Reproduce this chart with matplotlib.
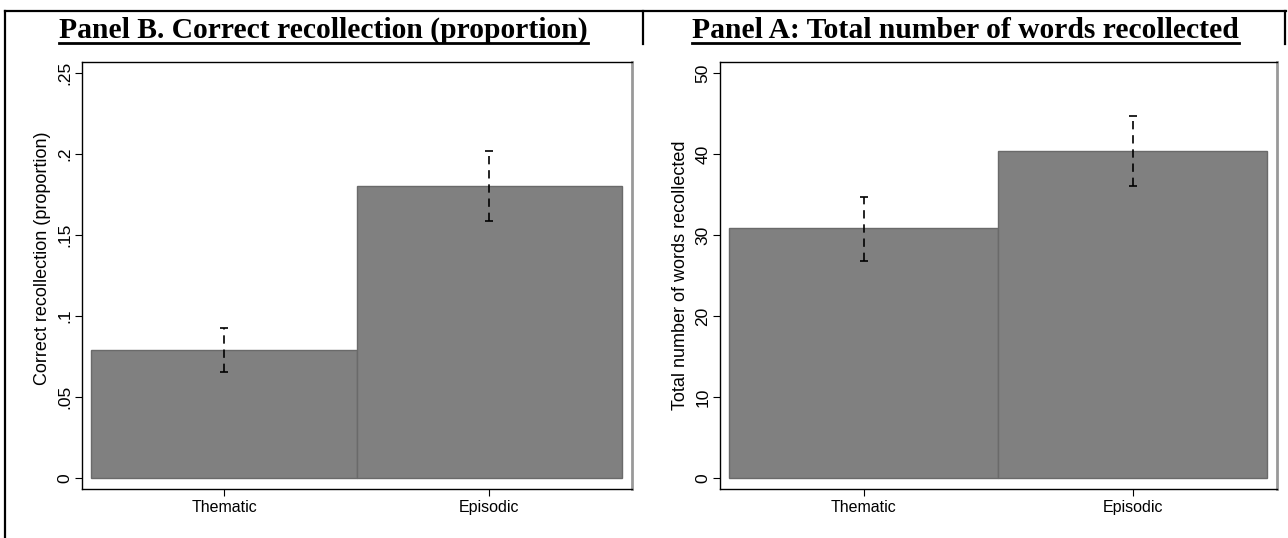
import matplotlib
matplotlib.use("Agg")
import matplotlib.pyplot as plt
from matplotlib.lines import Line2D

# ---- data ----
categories = ["Thematic", "Episodic"]
prop_means = [0.079, 0.180]
prop_lo = [0.0652, 0.1588]
prop_hi = [0.0928, 0.2020]
words_means = [30.9, 40.4]
words_lo = [26.8, 36.1]
words_hi = [34.7, 44.7]
prop_ticks = [0, 0.05, 0.10, 0.15, 0.20, 0.25]
prop_ticklabels = ["0", ".05", ".1", ".15", ".2", ".25"]
words_ticks = [0, 10, 20, 30, 40, 50]
words_ticklabels = ["0", "10", "20", "30", "40", "50"]
titles = ["Panel B. Correct recollection (proportion)", "Panel A: Total number of words recollected"]
ylabels = ["Correct recollection (proportion)", "Total number of words recollected"]

W, H = 1288, 538
fig = plt.figure(figsize=(W / 100, H / 100), dpi=100)
plt.rcParams["font.family"] = ["Liberation Sans", "DejaVu Sans"]

def fx(px):
    return px / W

def fy(py):
    return 1 - py / H

panels = [
    dict(x0=82, x1=632, means=prop_means, lo=prop_lo, hi=prop_hi, ticks=prop_ticks,
         tl=prop_ticklabels, ylim=(-0.0068, 0.2568), ylabel=ylabels[0], title=titles[0],
         tcenter=323.5, lx=-0.056, ly=0.54),
    dict(x0=720, x1=1277, means=words_means, lo=words_lo, hi=words_hi, ticks=words_ticks,
         tl=words_ticklabels, ylim=(-1.36, 51.36), ylabel=ylabels[1], title=titles[1],
         tcenter=965.5, lx=-0.056, ly=0.5),
]

top_px, bot_px = 62, 489
bar_color = "#808080"
for p in panels:
    ax = fig.add_axes([fx(p["x0"]), fy(bot_px), (p["x1"] - p["x0"]) / W, (bot_px - top_px) / H])
    xs = list(range(len(categories)))
    ax.bar(xs, p["means"], width=1.0, color=bar_color, edgecolor="#6a6a6a", linewidth=1.0)
    yerr = [[m - l for m, l in zip(p["means"], p["lo"])], [h - m for m, h in zip(p["means"], p["hi"])]]
    eb = ax.errorbar(xs, p["means"], yerr=yerr, fmt="none", ecolor="black", elinewidth=1.2,
                     capsize=2.6, capthick=1.2)
    for lc in eb[2]:
        lc.set_linestyle((0, (5, 3.5)))
    ax.set_xlim(-0.535, 1.537)
    ax.set_ylim(*p["ylim"])
    ax.set_xticks(xs)
    ax.set_xticklabels(categories, fontsize=11.5)
    ax.set_yticks(p["ticks"])
    ax.set_yticklabels(p["tl"], fontsize=12.5, rotation=90, va="center")
    ax.tick_params(axis="both", direction="out", length=5, width=0.8, color="black", pad=3)
    ax.tick_params(axis="y", pad=2)
    ax.set_ylabel(p["ylabel"], fontsize=13, labelpad=0)
    ax.yaxis.set_label_coords(p["lx"], p["ly"])
    for s in ["left", "bottom", "top"]:
        ax.spines[s].set_color("black")
        ax.spines[s].set_linewidth(1.0)
    ax.spines["right"].set_color("#999999")
    ax.spines["right"].set_linewidth(2.0)
    p["ax"] = ax

# titles (bold serif, underlined)
title_texts = []
for p in panels:
    t = fig.text(fx(p["tcenter"]), fy(38), p["title"], ha="center", va="baseline",
                 fontsize=20, fontweight="bold", family=["Liberation Serif", "DejaVu Serif"])
    title_texts.append(t)

fig.canvas.draw()
r = fig.canvas.get_renderer()
bb = title_texts[0].get_window_extent(r)
scale = 530.0 / bb.width
for t in title_texts:
    t.set_fontsize(20 * scale)
fig.canvas.draw()
for t in title_texts:
    bb = t.get_window_extent(r)
    fig.add_artist(Line2D([bb.x0 / W, bb.x1 / W], [fy(43), fy(43)], color="black", lw=2.0,
                          transform=fig.transFigure))

# outer frame lines
lw = 1.6
fig.add_artist(Line2D([fx(5), fx(1286)], [fy(11), fy(11)], color="black", lw=lw, transform=fig.transFigure))
fig.add_artist(Line2D([fx(5), fx(5)], [fy(11), fy(538)], color="black", lw=lw, transform=fig.transFigure))
fig.add_artist(Line2D([fx(643), fx(643)], [fy(11), fy(44)], color="black", lw=lw, transform=fig.transFigure))
fig.add_artist(Line2D([fx(1285), fx(1285)], [fy(11), fy(44)], color="black", lw=lw, transform=fig.transFigure))

fig.savefig("out.png", dpi=100)
